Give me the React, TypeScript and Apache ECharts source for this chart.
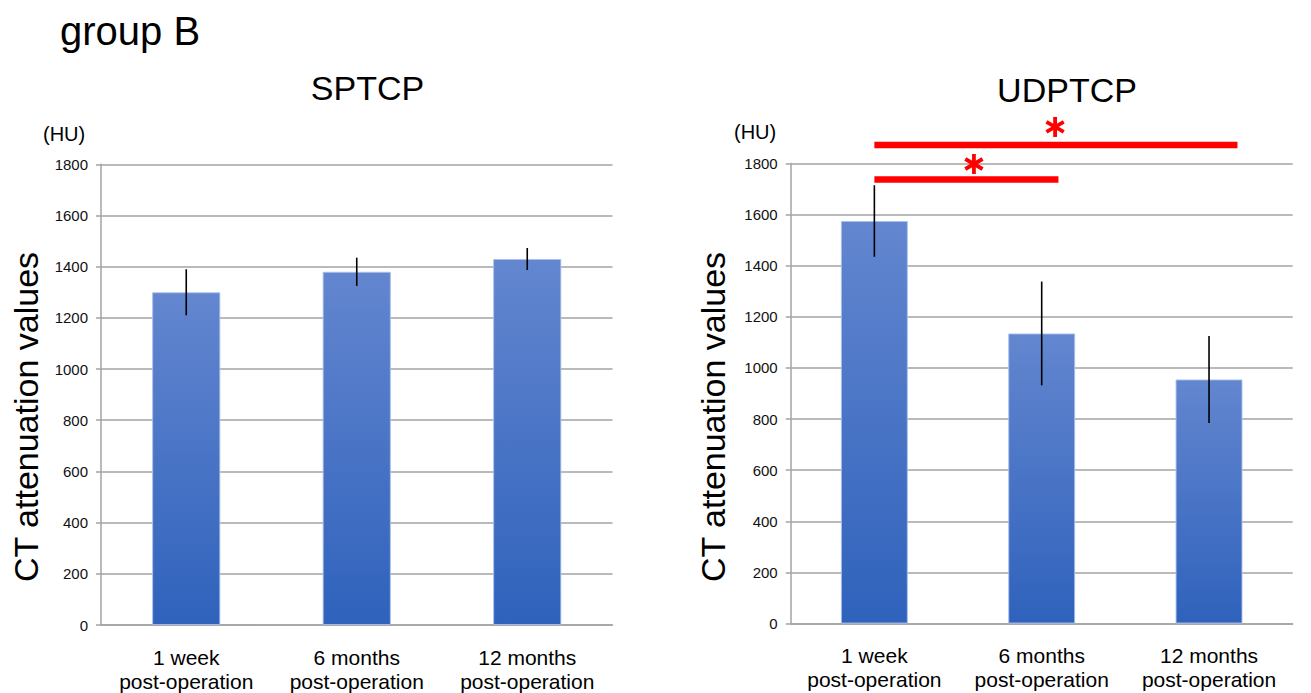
import React, { useEffect, useRef } from "react";
import * as echarts from "echarts";

const categories = ["1 week\npost-operation", "6 months\npost-operation", "12 months\npost-operation"];
const sptcpMeans = [1300, 1380, 1430];
const sptcpSD = [90, 55, 43];
const udptcpMeans = [1575, 1135, 955];
const udptcpSD = [140, 203, 170];
const yTicks = { min: 0, max: 1800, interval: 200 };
// significance bars: [fromCategory, toCategory, yValue, starCategoryPos, starYValue]
const sigBars = [
  [0, 1.1, 1737, 0.595, 1798],
  [0, 2.17, 1872, 1.08, 1943],
];

const GRID_COLOR = "#a3a3a3";
const FONT = "Liberation Sans, Arial, Helvetica, sans-serif";

function errData(means: number[], sd: number[]) {
  return means.map((m, i) => [i, m - sd[i], m + sd[i]]);
}

const barGradient = () =>
  new echarts.graphic.LinearGradient(0, 0, 0, 1, [
    { offset: 0, color: "#6386cf" },
    { offset: 1, color: "#2f62bc" },
  ]);

function xAxisCfg(gridIndex: number) {
  return {
    type: "category",
    gridIndex,
    data: categories,
    axisTick: { show: false },
    axisLine: { show: true, lineStyle: { color: GRID_COLOR, width: 1.5 } },
    axisLabel: {
      color: "#000",
      fontSize: 21,
      lineHeight: 24,
      margin: 20,
      fontFamily: FONT,
      interval: 0,
    },
  };
}

function yAxisCfg(gridIndex: number) {
  return {
    type: "value",
    gridIndex,
    min: yTicks.min,
    max: yTicks.max,
    interval: yTicks.interval,
    axisLine: { show: true, lineStyle: { color: GRID_COLOR, width: 1.5 } },
    axisTick: { show: true, length: 5, lineStyle: { color: GRID_COLOR, width: 1.5 } },
    splitLine: { show: true, lineStyle: { color: GRID_COLOR, width: 1.5 } },
    axisLabel: {
      color: "#111",
      fontSize: 15,
      margin: 13,
      fontFamily: FONT,
      formatter: (v: number) => String(v),
    },
  };
}

function barSeries(idx: number, data: number[]) {
  return {
    type: "bar",
    xAxisIndex: idx,
    yAxisIndex: idx,
    data,
    barWidth: "40%",
    itemStyle: { color: barGradient(), borderColor: "rgba(170,192,236,0.9)", borderWidth: 1 },
  };
}

function errSeries(idx: number, data: number[][]) {
  return {
    type: "custom",
    xAxisIndex: idx,
    yAxisIndex: idx,
    data,
    encode: { x: 0, y: [1, 2] },
    z: 5,
    renderItem: (params: any, api: any) => {
      const x = api.value(0);
      const lo = api.coord([x, api.value(1)]);
      const hi = api.coord([x, api.value(2)]);
      return {
        type: "line",
        shape: { x1: lo[0], y1: lo[1], x2: hi[0], y2: hi[1] },
        style: { stroke: "#000", lineWidth: 1.6 },
      };
    },
  };
}

function sigSeries(idx: number) {
  return {
    type: "custom",
    xAxisIndex: idx,
    yAxisIndex: idx,
    data: sigBars,
    clip: false,
    encode: { x: 0, y: 2 },
    z: 6,
    renderItem: (params: any, api: any) => {
      const y = api.value(2);
      const c0 = api.coord([0, y]);
      const c1 = api.coord([1, y]);
      const step = c1[0] - c0[0];
      const x0 = c0[0] + api.value(0) * step;
      const x1 = c0[0] + api.value(1) * step;
      const sx = c0[0] + api.value(3) * step;
      const sy = api.coord([0, api.value(4)])[1];
      const r = 10;
      const arms = [90, 30, 150].map((deg) => {
        const a = (deg * Math.PI) / 180;
        return {
          type: "line",
          shape: {
            x1: sx - r * Math.cos(a),
            y1: sy - r * Math.sin(a),
            x2: sx + r * Math.cos(a),
            y2: sy + r * Math.sin(a),
          },
          style: { stroke: "#ff0000", lineWidth: 3.8 },
        };
      });
      return {
        type: "group",
        children: [
          {
            type: "line",
            shape: { x1: x0, y1: c0[1], x2: x1, y2: c0[1] },
            style: { stroke: "#ff0000", lineWidth: 6.5 },
          },
          ...arms,
        ],
      };
    },
  };
}

export default function App() {
  const ref = useRef<HTMLDivElement>(null);
  useEffect(() => {
    if (!ref.current) return;
    const chart = echarts.init(ref.current, null, { renderer: "svg" });
    const textStyle = (size: number) => ({ fill: "#000", fontSize: size, fontFamily: FONT });
    chart.setOption({
      animation: false,
      backgroundColor: "#fff",
      grid: [
        { left: 101, top: 164.3, width: 511.5, height: 460.7 },
        { left: 790.7, top: 163.5, width: 502, height: 460 },
      ],
      xAxis: [xAxisCfg(0), xAxisCfg(1)],
      yAxis: [yAxisCfg(0), yAxisCfg(1)],
      series: [
        barSeries(0, sptcpMeans),
        errSeries(0, errData(sptcpMeans, sptcpSD)),
        barSeries(1, udptcpMeans),
        errSeries(1, errData(udptcpMeans, udptcpSD)),
        sigSeries(1),
      ],
      graphic: [
        { type: "text", left: 60, top: 11, style: { text: "group B", ...textStyle(40) } },
        { type: "text", x: 367.5, y: 88, style: { text: "SPTCP", ...textStyle(34), align: "center", verticalAlign: "middle" } },
        { type: "text", x: 1067, y: 90, style: { text: "UDPTCP", ...textStyle(34), align: "center", verticalAlign: "middle" } },
        { type: "text", x: 43, y: 134, style: { text: "(HU)", ...textStyle(20), align: "left", verticalAlign: "middle" } },
        { type: "text", x: 734, y: 132, style: { text: "(HU)", ...textStyle(20), align: "left", verticalAlign: "middle" } },
        {
          type: "text", x: 26, y: 417, rotation: Math.PI / 2,
          style: { text: "CT attenuation values", ...textStyle(34), align: "center", verticalAlign: "middle" },
        },
        {
          type: "text", x: 713, y: 417, rotation: Math.PI / 2,
          style: { text: "CT attenuation values", ...textStyle(34), align: "center", verticalAlign: "middle" },
        },
      ],
    });
    return () => chart.dispose();
  }, []);
  return <div ref={ref} style={{ position: "fixed", left: 0, top: 0, width: 1311, height: 693 }} />;
}
